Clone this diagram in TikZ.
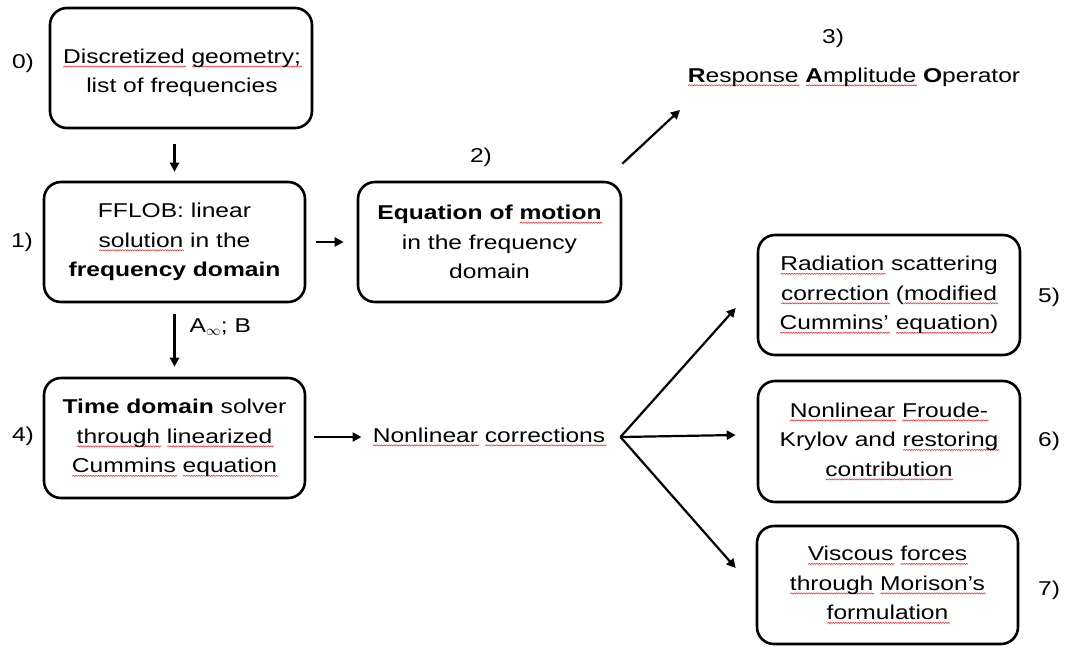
\documentclass[tikz,border=0pt]{standalone}
\usepackage{fontspec}
\setmainfont[FakeStretch=1.23]{Liberation Sans}
\usetikzlibrary{arrows.meta}
\colorlet{wavered}{red!85!white}
\newsavebox\wavbox
\newdimen\wvx
\newif\ifwvup
\newcommand\wavy[1]{\leavevmode\sbox\wavbox{#1}%
\rlap{\textcolor{wavered}{\begin{pgfpicture}\pgfsetbaseline{0pt}\pgfsetcornersarced{\pgfpointorigin}\pgfsetlinewidth{0.55pt}\pgfsetdash{}{0pt}%
\pgfpathmoveto{\pgfpoint{0pt}{-3.7pt}}\wvx=0pt\wvuptrue
\loop\advance\wvx by 1.25pt\ifdim\wvx<\wd\wavbox
\ifwvup\pgfpathlineto{\pgfpoint{\wvx}{-2.5pt}}\wvupfalse\else\pgfpathlineto{\pgfpoint{\wvx}{-3.7pt}}\wvuptrue\fi
\repeat
\pgfusepath{stroke}\end{pgfpicture}}}\usebox\wavbox}
\begin{document}
\begin{tikzpicture}[x=1pt,y=-1pt,
  font=\fontsize{20}{29.5}\selectfont,
  box/.style={draw,line width=2.6pt,rounded corners=17pt,minimum width=262pt,minimum height=120pt,align=center,inner sep=4pt},
  arr/.style={line width=2.2pt,-{Triangle[length=9pt,width=9pt]}},
  lab/.style={inner sep=0pt}]
\useasboundingbox (0,0) rectangle (1067,646);
\node[box] (b0) at (181,68) {};
\node[align=center,inner sep=0pt] (b0t) at (182,73) {\wavy{Discretized} \wavy{geometry;}\\ list of frequencies};
\node[box,minimum width=261pt] (b1) at (174.5,242) {FFLOB: linear\\ \wavy{solution} in the\\ \textbf{frequency domain}};
\node[box,minimum width=263pt] (b2) at (489.5,242) {\textbf{Equation of \wavy{motion}}\\ in the frequency\\ domain};
\node[box,minimum width=261pt] (b4) at (174.5,438) {\textbf{Time domain} solver\\ \wavy{through} \wavy{linearized}\\ \wavy{Cummins} \wavy{equation}};
\node[lab] (nc) at (489,437) {\wavy{Nonlinear} \wavy{corrections}};
\node[lab] (rao) at (854,77) {\wavy{\textbf{R}esponse} \wavy{\textbf{A}mplitude} \textbf{O}perator};
\node[box] (b5) at (889,295) {\wavy{Radiation} scattering\\ \wavy{correction} (\wavy{modified}\\ \wavy{Cummins’} \wavy{equation})};
\node[box,minimum height=121pt] (b6) at (889,441.5) {\wavy{Nonlinear} \wavy{Froude-}\\ Krylov and \wavy{restoring}\\ \wavy{contribution}};
\node[box,minimum width=261pt,minimum height=118pt] (b7) at (887.5,585) {\wavy{Viscous} \wavy{forces}\\ \wavy{through} \wavy{Morison’s}\\ \wavy{formulation}};
\node[lab] (l0) at (23,63) {0)};
\node[lab] (l1) at (22,242) {1)};
\node[lab] (l4) at (23,436) {4)};
\node[lab] (l2) at (481,157) {2)};
\node[lab] (l3) at (833,38) {3)};
\node[lab] (l5) at (1049,297) {5)};
\node[lab] (l6) at (1049,441) {6)};
\node[lab] (l7) at (1049,590) {7)};
\coordinate (c3) at (680,110);
\draw[arr,shorten <=15pt,shorten >=9pt] (b0.south -| b1.north) -- (b1.north);
\draw[arr,shorten <=11pt,shorten >=10pt] (b1.south) -- (b4.north)
  node[pos=0.32,anchor=west,xshift=14pt,inner sep=0pt] (ab) {A$_\infty$; B};
\draw[arr,shorten <=10pt,shorten >=13pt] (b1.east) -- (b2.west);
\draw[arr] ([shift={(0,-17)}]b2.north east) -- (c3);
\draw[arr,shorten <=8pt,shorten >=11pt] (b4.east |- nc.west) -- (nc.west);
\draw[arr] ([xshift=15pt]nc.east) -- ([shift={(-21,13)}]b5.west);
\draw[arr] ([xshift=15pt]nc.east) -- ([shift={(-21,-6.5)}]b6.west);
\draw[arr] ([xshift=15pt]nc.east) -- ([shift={(-20,-17)}]b7.west);
\end{tikzpicture}
\end{document}
